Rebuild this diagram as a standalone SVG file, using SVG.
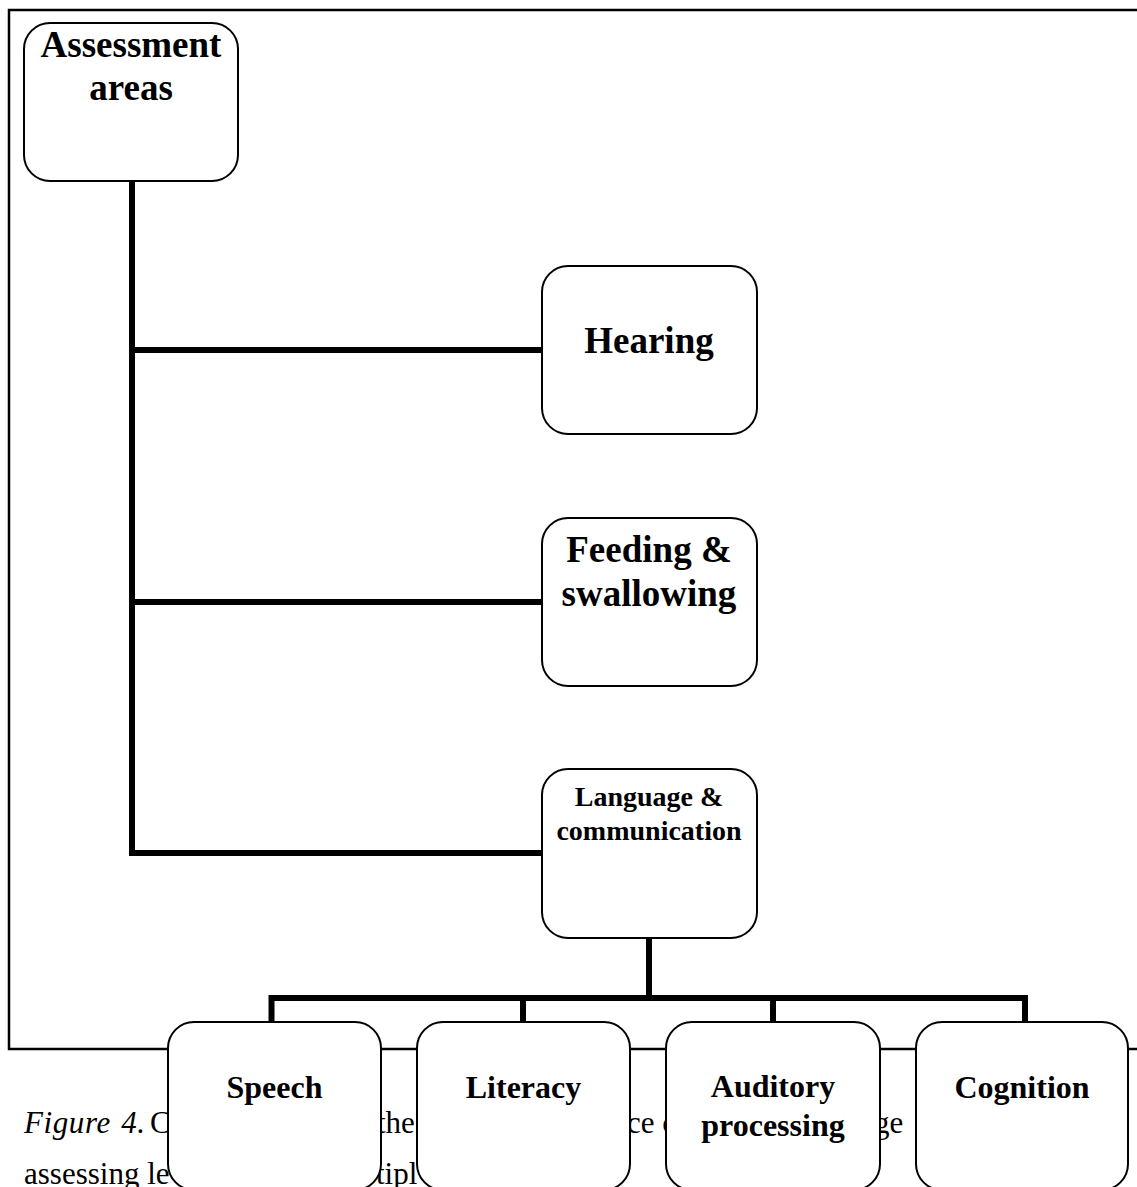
<svg xmlns="http://www.w3.org/2000/svg" width="1137" height="1187" viewBox="0 0 1137 1187">
<style>
.box{fill:#fff;stroke:#000;stroke-width:2}
.lbl{font-family:"Liberation Serif","Times New Roman",serif;font-weight:bold;fill:#000;text-anchor:middle}
.cap{font-family:"Liberation Serif","Times New Roman",serif;font-size:31px;fill:#000}
.conn{stroke:#000;stroke-width:6;fill:none}
.frame{stroke:#000;stroke-width:2.5;fill:none}
</style>
<rect width="1137" height="1187" fill="#fff"/>
<g id="frame">
<path class="frame" d="M1137 10 H9 V1049 H1137"/>
</g>
<g id="caption">
<text class="cap" x="24" y="1133"><tspan font-style="italic" letter-spacing="0.6" word-spacing="2">Figure 4.</tspan><tspan x="150">C</tspan></text>
<text class="cap" x="377" y="1133">the</text>
<text class="cap" x="627" y="1133">ce c</text>
<text class="cap" x="874" y="1133">ge</text>
<text class="cap" x="24" y="1184">assessing le</text>
<text class="cap" x="376" y="1184">tipl</text>
</g>
<g id="connectors">
<path class="conn" d="M132 181 V853"/>
<path class="conn" d="M129 350 H542"/>
<path class="conn" d="M129 602 H542"/>
<path class="conn" d="M129 853 H542"/>
<path class="conn" d="M649 938 V998"/>
<path class="conn" d="M271.5 1022 V998 H1025 V1022"/>
<path class="conn" d="M523 998 V1022"/>
<path class="conn" d="M773 998 V1022"/>
</g>
<g id="node-assessment">
<rect class="box" x="24" y="23" width="214" height="158" rx="26"/>
<text class="lbl" font-size="37" x="131" y="57">Assessment</text>
<text class="lbl" font-size="37" x="131" y="100">areas</text>
</g>
<g id="node-hearing">
<rect class="box" x="542" y="266" width="215" height="168" rx="26"/>
<text class="lbl" font-size="37" x="649" y="353">Hearing</text>
</g>
<g id="node-feeding">
<rect class="box" x="542" y="518" width="215" height="168" rx="26"/>
<text class="lbl" font-size="37" x="649" y="562">Feeding &amp;</text>
<text class="lbl" font-size="37" x="649" y="606">swallowing</text>
</g>
<g id="node-language">
<rect class="box" x="542" y="769" width="215" height="169" rx="26"/>
<text class="lbl" font-size="28" x="649" y="806">Language &amp;</text>
<text class="lbl" font-size="28" x="649" y="840">communication</text>
</g>
<g id="node-speech">
<rect class="box" x="168" y="1022" width="213" height="168" rx="26"/>
<text class="lbl" font-size="32" x="274.5" y="1098">Speech</text>
</g>
<g id="node-literacy">
<rect class="box" x="417" y="1022" width="213" height="168" rx="26"/>
<text class="lbl" font-size="32" x="523.5" y="1098">Literacy</text>
</g>
<g id="node-auditory">
<rect class="box" x="666" y="1022" width="214" height="168" rx="26"/>
<text class="lbl" font-size="32" x="773" y="1097">Auditory</text>
<text class="lbl" font-size="32" x="773" y="1136">processing</text>
</g>
<g id="node-cognition">
<rect class="box" x="916" y="1022" width="212" height="168" rx="26"/>
<text class="lbl" font-size="32" x="1022" y="1098">Cognition</text>
</g>
</svg>
